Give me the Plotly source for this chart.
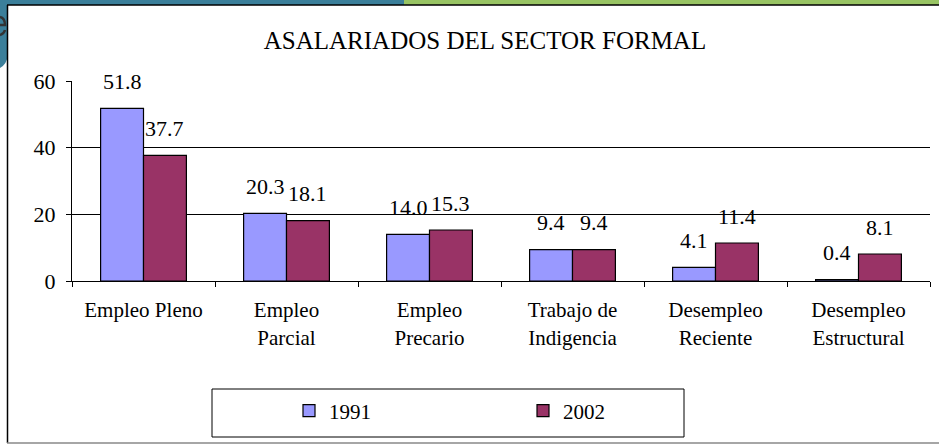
import plotly.graph_objects as go

categories = ["Empleo Pleno", "Empleo Parcial", "Empleo Precario", "Trabajo de Indigencia",
              "Desempleo Reciente", "Desempleo Estructural"]
tick_labels = ["Empleo Pleno", "Empleo<br>Parcial", "Empleo<br>Precario", "Trabajo de<br>Indigencia",
               "Desempleo<br>Reciente", "Desempleo<br>Estructural"]
series_names = ["1991", "2002"]
values_1991 = [51.8, 20.3, 14.0, 9.4, 4.1, 0.4]
values_2002 = [37.7, 18.1, 15.3, 9.4, 11.4, 8.1]
title_text = "ASALARIADOS DEL SECTOR FORMAL"

W, H = 939, 445
L, R, T, B = 72, 9, 81, 164
PW, PH = W - L - R, H - T - B

def px(x):
    return (x - L) / PW

def py(y):
    return (H - B - y) / PH

FONT = "Liberation Serif, Times New Roman, serif"
colors = ["#9999ff", "#993366"]

fig = go.Figure()
for name, vals, col in zip(series_names, [values_1991, values_2002], colors):
    fig.add_trace(go.Bar(x=categories, y=vals, name=name,
                         marker=dict(color=col, line=dict(color="black", width=1.2))))

bargap = 0.4
half = PW / len(categories) * (1 - bargap) / 4
annotations = []
for i, vals in enumerate([values_1991, values_2002]):
    for c, v in zip(categories, vals):
        annotations.append(dict(x=c, y=v, xref="x", yref="y", text=f"{v:.1f}", showarrow=False,
                                xshift=(-half if i == 0 else half), yshift=27, yanchor="middle",
                                font=dict(family=FONT, size=22, color="black")))

teal, green = "#3b7f9a", "#98c463"
shapes = [
    dict(type="rect", xref="paper", yref="paper", x0=px(0), x1=px(404), y0=py(0), y1=py(5),
         fillcolor=teal, line=dict(width=0), layer="below"),
    dict(type="rect", xref="paper", yref="paper", x0=px(404), x1=px(939), y0=py(0), y1=py(5),
         fillcolor=green, line=dict(width=0), layer="below"),
    dict(type="path", xref="paper", yref="paper",
         path=f"M{px(0)},{py(0)} L{px(8)},{py(0)} L{px(8)},{py(55)} Q{px(7)},{py(64)} {px(0)},{py(68)} Z",
         fillcolor=teal, line=dict(width=0), layer="below"),
    dict(type="path", xref="paper", yref="paper",
         path=f"M{px(0)},{py(17)} Q{px(5)},{py(18)} {px(5)},{py(25)} L{px(0)},{py(25)}",
         fillcolor="rgba(0,0,0,0)", line=dict(color="#333333", width=2.5)),
    dict(type="path", xref="paper", yref="paper",
         path=f"M{px(5)},{py(30)} Q{px(4)},{py(34)} {px(0)},{py(35)}",
         fillcolor="rgba(0,0,0,0)", line=dict(color="#333333", width=2.5)),
    dict(type="line", xref="paper", yref="paper", x0=px(7), x1=px(939), y0=py(5), y1=py(5),
         line=dict(color="black", width=1.5)),
    dict(type="line", xref="paper", yref="paper", x0=px(7.5), x1=px(7.5), y0=py(5), y1=py(443),
         line=dict(color="black", width=1.5)),
    dict(type="line", xref="paper", yref="paper", x0=px(7), x1=px(939), y0=py(443), y1=py(443),
         line=dict(color="#888888", width=1.5)),
    dict(type="rect", xref="paper", yref="paper", x0=px(212), x1=px(684), y0=py(389), y1=py(437),
         line=dict(color="black", width=1), fillcolor="rgba(0,0,0,0)"),
]

fig.update_layout(
    width=W, height=H,
    margin=dict(l=L, r=R, t=T, b=B, pad=0),
    paper_bgcolor="white", plot_bgcolor="white",
    barmode="group", bargap=bargap, bargroupgap=0,
    font=dict(family=FONT, size=22, color="black"),
    title=dict(text=title_text, x=485 / W, xref="container", xanchor="center",
               y=1 - 40 / H, yref="container", yanchor="middle",
               font=dict(family=FONT, size=25, color="black")),
    xaxis=dict(type="category", tickmode="array", tickvals=categories, ticktext=tick_labels,
               tickson="boundaries", ticks="outside", ticklen=5, tickcolor="black",
               ticklabelstandoff=10,
               showline=True, linecolor="black", linewidth=1, showgrid=False,
               tickfont=dict(family=FONT, size=21, color="black")),
    yaxis=dict(range=[0, 60], tickvals=[0, 20, 40, 60], ticks="outside", ticklen=5, tickcolor="black",
               ticklabelstandoff=6,
               showline=True, linecolor="black", linewidth=1, showgrid=True, gridcolor="black",
               gridwidth=1, zeroline=False,
               tickfont=dict(family=FONT, size=22, color="black")),
    legend=dict(orientation="h", x=px(289), xanchor="left", y=py(411), yanchor="middle",
                entrywidth=189, entrywidthmode="pixels", bgcolor="rgba(0,0,0,0)", borderwidth=0,
                font=dict(family=FONT, size=21, color="black")),
    annotations=annotations, shapes=shapes,
)

fig.write_html("out.html", config={"displayModeBar": False},
               post_script="document.body.style.margin='0px';document.body.style.overflow='hidden';")
